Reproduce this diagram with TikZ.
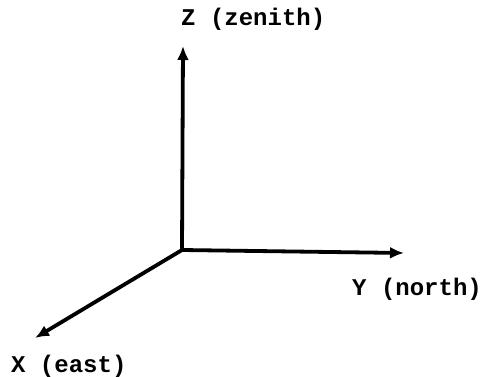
\documentclass[tikz,border=0pt]{standalone}
\usepackage{fontspec}
\setmonofont{Liberation Mono}
\usetikzlibrary{arrows.meta,positioning,calc}

\begin{document}
\begin{tikzpicture}[x=1pt,y=-1pt,
  axis/.style={line width=3.8pt,-{Latex[length=14pt,width=12pt]}},
  axislabel/.style={anchor=base west,inner sep=0pt,font=\ttfamily\bfseries\fontsize{24}{24}\selectfont}]
  \useasboundingbox (0,0) rectangle (484,377);
  % origin and axis ends
  \coordinate (o) at (182,250);
  \coordinate (ztip) at (183,46);
  \coordinate (ytip) at (404,253);
  \coordinate (xtip) at (35,338);
  \draw[axis] (o) -- (ztip);
  \draw[axis] (o) -- (ytip);
  \draw[axis] (o) -- (xtip);
  % labels
  \node[axislabel] (zlab) at (181,26) {Z (zenith)};
  \node[axislabel] (ylab) at (352,295) {Y (north)};
  \node[axislabel] (xlab) at (11,372) {X (east)};
\end{tikzpicture}
\end{document}
